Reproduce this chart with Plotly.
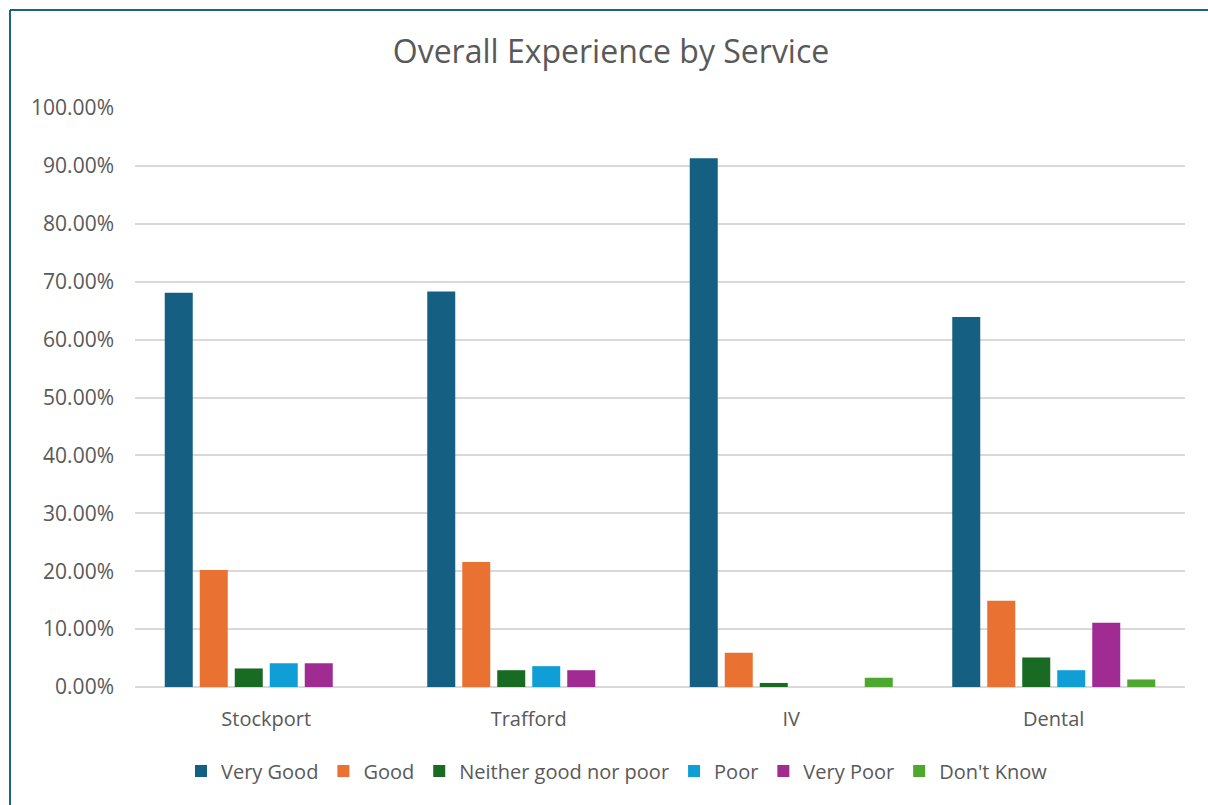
import plotly.graph_objects as go

services = ["Stockport", "Trafford", "IV", "Dental"]

very_good = [68.1, 68.3, 91.3, 63.9]
good = [20.2, 21.6, 5.9, 14.9]
neither = [3.2, 2.9, 0.7, 5.1]
poor = [4.1, 3.6, 0.0, 2.9]
very_poor = [4.1, 2.9, 0.0, 11.1]
dont_know = [0.0, 0.0, 1.6, 1.3]

series_names = ["Very Good", "Good", "Neither good nor poor", "Poor", "Very Poor", "Don't Know"]
series_values = [very_good, good, neither, poor, very_poor, dont_know]
series_colors = ["#156082", "#E97132", "#196B24", "#0F9ED5", "#A02B93", "#4EA72E"]

text_color = "#595959"
font_family = "Open Sans, Noto Sans, sans-serif"

fig = go.Figure()
for name, vals, col in zip(series_names, series_values, series_colors):
    fig.add_trace(go.Bar(
        x=services,
        y=vals,
        name=name,
        marker=dict(color=col, line=dict(width=0)),
        hovertemplate="%{x}<br>" + name + ": %{y:.2f}%<extra></extra>",
    ))

W, H = 1208, 805
L, R, T, B = 135, 23, 108, 118
pw, ph = W - L - R, H - T - B


def px_x(px):
    return (px - L) / pw


def px_y(py):
    return (H - B - py) / ph


# outer chart frame (top and left edges)
frame_color = "#1A6288"
shapes = [
    dict(type="line", xref="paper", yref="paper",
         x0=px_x(10), x1=px_x(W + 20), y0=px_y(10), y1=px_y(10),
         line=dict(color=frame_color, width=2)),
    dict(type="line", xref="paper", yref="paper",
         x0=px_x(10), x1=px_x(10), y0=px_y(10), y1=px_y(H + 20),
         line=dict(color=frame_color, width=2)),
]

fig.update_layout(
    width=W, height=H,
    margin=dict(l=L, r=R, t=T, b=B, autoexpand=False),
    paper_bgcolor="white",
    plot_bgcolor="white",
    barmode="group",
    bargap=0.2,
    bargroupgap=0.2,
    font=dict(family=font_family, color=text_color, size=20),
    title=dict(
        text="Overall Experience by Service",
        x=611 / W, xanchor="center", xref="container",
        y=1 - 52 / H, yanchor="middle", yref="container",
        font=dict(size=32, color=text_color, family=font_family),
    ),
    xaxis=dict(
        showgrid=False,
        showline=False,
        zeroline=False,
        ticks="",
        ticklabelstandoff=18,
        tickfont=dict(size=20, color=text_color),
    ),
    yaxis=dict(
        range=[0, 100],
        tickvals=list(range(0, 101, 10)),
        ticktext=[f"{v:.2f}%" for v in range(0, 101, 10)],
        showgrid=True,
        gridcolor="#D9D9D9",
        gridwidth=1.5,
        zeroline=True,
        zerolinecolor="#D9D9D9",
        zerolinewidth=1.5,
        showline=False,
        ticks="",
        ticklabelstandoff=20,
        tickfont=dict(size=21, color=text_color),
    ),
    legend=dict(
        orientation="h",
        x=px_x(617), xanchor="center",
        y=px_y(771), yanchor="middle",
        font=dict(size=20, color=text_color),
        itemwidth=30,
        traceorder="normal",
    ),
    shapes=shapes,
)

fig.write_html("out.html")
